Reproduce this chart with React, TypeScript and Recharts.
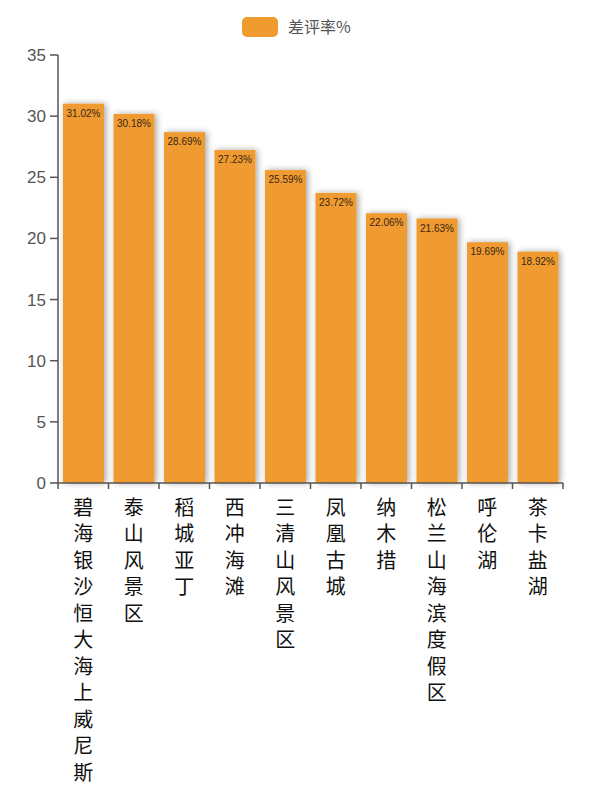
import React from 'react';
import { BarChart, Bar, XAxis, YAxis, Legend, LabelList } from 'recharts';

const categories = ['碧海银沙恒大海上威尼斯', '泰山风景区', '稻城亚丁', '西冲海滩', '三清山风景区', '凤凰古城', '纳木措', '松兰山海滨度假区', '呼伦湖', '茶卡盐湖'];
const values = [31.02, 30.18, 28.69, 27.23, 25.59, 23.72, 22.06, 21.63, 19.69, 18.92];
const yTicks = [0, 5, 10, 15, 20, 25, 30, 35];
const seriesName = '差评率%';

const data = categories.map((name, i) => ({ name, value: values[i] }));

const ORANGE = '#F09B30';
const AXIS = '#555';

const XTick = (props: any) => {
  const { x, y, payload, index } = props;
  const half = payload && payload.offset ? payload.offset : 25.25;
  const chars = String(payload.value).split('');
  const axisY = y - 8;
  return (
    <g>
      <line x1={x - half} y1={axisY} x2={x - half} y2={axisY + 6} stroke={AXIS} strokeWidth={1.5} />
      {index === categories.length - 1 && (
        <line x1={x + half} y1={axisY} x2={x + half} y2={axisY + 6} stroke={AXIS} strokeWidth={1.5} />
      )}
      <text textAnchor="middle" fontSize={20} fill="#111" fontFamily="'Noto Sans CJK SC', sans-serif">
        {chars.map((c, i) => (
          <tspan key={i} x={x} y={y + 23.5 + i * 26.5}>{c}</tspan>
        ))}
      </text>
    </g>
  );
};

const LegendContent = () => (
  <svg width={600} height={50} style={{ display: 'block' }}>
    <rect x={242} y={17} width={36} height={20} rx={5} fill={ORANGE} />
    <text x={288} y={33} fontSize={16} fill="#555" fontFamily="'Noto Sans CJK SC', sans-serif">{seriesName}</text>
  </svg>
);

const ShadowBar = (props: any) => {
  const { x, y, width, height } = props;
  if (!height || height <= 0) return null;
  return <rect x={x} y={y} width={width} height={height} fill={ORANGE} filter="url(#barShadow)" />;
};

export default function App() {
  return (
    <div style={{ position: 'absolute', left: 0, top: 0, width: 600, height: 800, background: '#fff' }}>
      <BarChart
        width={600}
        height={800}
        data={data}
        margin={{ top: 55, right: 37, bottom: 0, left: 0 }}
        barSize={41}
      >
        <defs>
          <filter id="barShadow" x="-20%" y="-5%" width="140%" height="110%">
            <feDropShadow dx={2} dy={0} stdDeviation={3} floodColor="#000" floodOpacity={0.35} />
          </filter>
        </defs>
        <Legend
          verticalAlign="middle"
          align="center"
          content={<LegendContent />}
          wrapperStyle={{ top: 0, left: 0, width: 600 }}
        />
        <YAxis
          width={58}
          domain={[0, 35]}
          ticks={yTicks}
          interval={0}
          tickSize={8}
          tickMargin={4}
          axisLine={{ stroke: AXIS, strokeWidth: 1.5 }}
          tickLine={{ stroke: AXIS, strokeWidth: 1.5 }}
          tick={{ fontSize: 17, fill: '#555', fontFamily: "'Liberation Sans', sans-serif" }}
        />
        <XAxis
          dataKey="name"
          height={317}
          interval={0}
          tickLine={false}
          axisLine={{ stroke: AXIS, strokeWidth: 1.5 }}
          tick={<XTick />}
        />
        <Bar dataKey="value" name={seriesName} fill={ORANGE} isAnimationActive={false} shape={<ShadowBar />}>
          <LabelList
            dataKey="value"
            position="insideTop"
            offset={6}
            formatter={(v: any) => `${Number(v).toFixed(2)}%`}
            style={{ fontSize: 10, fill: '#3a2510', fontFamily: "'Liberation Sans', sans-serif" }}
          />
        </Bar>
      </BarChart>
    </div>
  );
}
